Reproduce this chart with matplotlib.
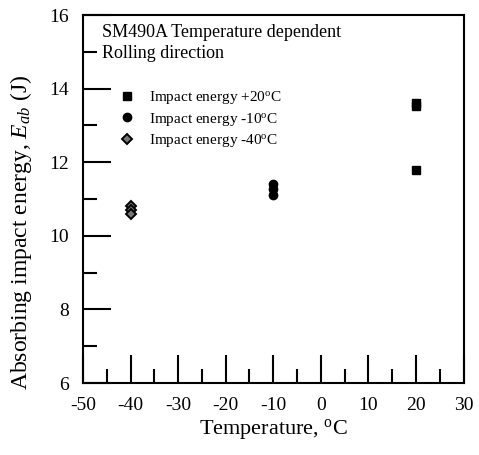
import numpy as np
import matplotlib
matplotlib.use('Agg')
import matplotlib.pyplot as plt

plt.rcParams['font.family'] = ['Liberation Serif', 'DejaVu Serif']
plt.rcParams['mathtext.fontset'] = 'custom'
plt.rcParams['mathtext.rm'] = 'Liberation Serif'
plt.rcParams['mathtext.it'] = 'Liberation Serif:italic'
plt.rcParams['axes.unicode_minus'] = False

# impact test results
temp_p20 = [20, 20, 20]
energy_p20 = [13.62, 13.52, 11.8]
temp_m10 = [-10, -10, -10]
energy_m10 = [11.42, 11.27, 11.12]
temp_m40 = [-40, -40, -40]
energy_m40 = [10.82, 10.7, 10.6]

labels = ['Impact energy +20$^{\\mathrm{o}}$C',
          'Impact energy -10$^{\\mathrm{o}}$C',
          'Impact energy -40$^{\\mathrm{o}}$C']

fig = plt.figure(figsize=(4.79, 4.55), dpi=100)
ax = fig.add_axes([0.1733, 0.1582, 0.7944, 0.8088])

ax.plot(temp_p20, energy_p20, 's', color='black', ms=6, label=labels[0])
ax.plot(temp_m10, energy_m10, 'o', color='black', ms=6, label=labels[1])
ax.plot(temp_m40, energy_m40, 'D', color='#777777', mec='black', mew=1.4, ms=5.5,
        label=labels[2])

ax.set_xlim(-50, 30)
ax.set_ylim(6, 16)
ax.set_xticks(np.arange(-50, 31, 10))
ax.set_xticks(np.arange(-45, 30, 10), minor=True)
ax.set_yticks(np.arange(6, 17, 2))
ax.set_yticks(np.arange(7, 16, 2), minor=True)
ax.tick_params(which='both', direction='in', top=False, right=False,
               labelsize=14, width=1.5)
ax.tick_params(which='major', length=20, pad=10)
ax.tick_params(which='minor', length=10)
for s in ax.spines.values():
    s.set_linewidth(1.5)

ax.set_xlabel('Temperature, $^{\\mathrm{o}}$C', fontsize=16, labelpad=2)
ax.set_ylabel('Absorbing impact energy, $E_{ab}$ (J)', fontsize=17)
ax.yaxis.set_label_coords(-0.13, 0.41)

ax.text(0.05, 0.975, 'SM490A Temperature dependent\nRolling direction',
        transform=ax.transAxes, fontsize=13, va='top', ha='left',
        linespacing=1.3)

ax.legend(loc='upper left', bbox_to_anchor=(0.08, 0.815), frameon=False,
          fontsize=11, handletextpad=0.9, labelspacing=0.3, handlelength=1.0,
          borderaxespad=0)

fig.savefig('out.png', dpi=100)
